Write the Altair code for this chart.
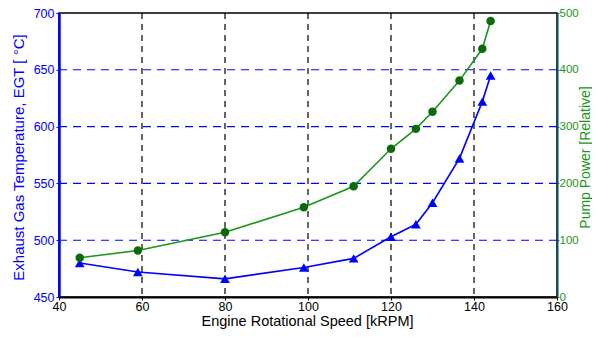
import altair as alt
import pandas as pd

speed = [45, 59, 80, 99, 111, 120, 126, 130, 136.5, 142, 144]
egt = [480, 472, 466, 476, 484, 503, 514, 533, 572, 622, 645]
pump = [69, 82, 114, 158, 195, 261, 296, 326, 381, 437, 486]

x_ticks = [40, 60, 80, 100, 120, 140, 160]
egt_ticks = [450, 500, 550, 600, 650, 700]
pump_ticks = [0, 100, 200, 300, 400, 500]

df = pd.DataFrame({"speed": speed, "egt": egt, "pump": pump})
vgrid_df = pd.DataFrame({"speed": x_ticks[1:-1]})
hgrid_df = pd.DataFrame({"egt": egt_ticks[1:-1]})

BLUE = "#0000ff"
GREEN = "#1a961a"
DKGREEN = "#0b6b0b"
FONT = "Liberation Sans"

PAD_L, PAD_T, PAD_R, PAD_B = 51, 5, 35, 32
W, H = 498, 284

x_enc = alt.X(
    "speed:Q",
    scale=alt.Scale(domain=[40, 160], nice=False, zero=False),
    axis=alt.Axis(
        title="Engine Rotational Speed [kRPM]",
        values=x_ticks,
        grid=False,
        labelFlush=False,
        domainColor="black",
        domainWidth=2,
        tickColor="black",
        tickSize=3,
        labelColor="black",
        labelFontSize=12.5,
        labelFont=FONT,
        titleFont=FONT,
        titleFontSize=14.5,
        titleFontWeight="normal",
        titleColor="black",
        titleBaseline="middle",
        titleX=248,
        titleY=24,
        labelPadding=0,
    ),
)

egt_axis = alt.Axis(
    title="Exhaust Gas Temperature, EGT [ °C]",
    values=egt_ticks,
    grid=False,
    labelFlush=False,
    domainColor=BLUE,
    domainWidth=2.5,
    tickColor=BLUE,
    tickSize=3,
    labelColor=BLUE,
    labelFontSize=12.5,
    labelFont=FONT,
    titleFont=FONT,
    titleFontSize=15,
    titleFontWeight="normal",
    titleColor=BLUE,
    titleAngle=270,
    titleBaseline="middle",
    titleX=-41,
    titleY=144,
    labelPadding=2,
)

pump_axis = alt.Axis(
    title="Pump Power [Relative]",
    orient="right",
    values=pump_ticks,
    grid=False,
    labelFlush=False,
    domainColor="#0d4d5a",
    domainWidth=2,
    tickColor=GREEN,
    tickSize=2,
    labelColor=GREEN,
    labelFontSize=11.5,
    labelFont=FONT,
    titleFont=FONT,
    titleFontSize=14,
    titleFontWeight="normal",
    titleColor=GREEN,
    titleAngle=270,
    titleBaseline="middle",
    titleX=28.3,
    titleY=144,
    labelPadding=0,
)

egt_y = alt.Y("egt:Q", scale=alt.Scale(domain=[450, 700], nice=False, zero=False), axis=egt_axis)
pump_y = alt.Y("pump:Q", scale=alt.Scale(domain=[0, 500], nice=False, zero=False), axis=pump_axis)

vgrid = alt.Chart(vgrid_df).mark_rule(color="black", strokeDash=[6, 5], strokeWidth=1.2).encode(x=x_enc)
hgrid = alt.Chart(hgrid_df).mark_rule(color=BLUE, strokeDash=[8, 6], strokeWidth=1.1).encode(y=egt_y)

base = alt.Chart(df)
egt_line = base.mark_line(color=BLUE, strokeWidth=1.6).encode(x=x_enc, y=egt_y)
egt_pts = base.mark_point(shape="triangle-up", filled=True, color=BLUE, size=95, opacity=1).encode(x=x_enc, y=egt_y)

pump_line = base.mark_line(color=GREEN, strokeWidth=1.6).encode(x=alt.X("speed:Q"), y=pump_y)
pump_pts = base.mark_point(shape="circle", filled=True, color=DKGREEN, size=72, opacity=1).encode(x=alt.X("speed:Q"), y=pump_y)

left = alt.layer(vgrid, hgrid, egt_line, egt_pts)
right = alt.layer(pump_line, pump_pts)

chart = (
    alt.layer(left, right)
    .resolve_scale(y="independent")
    .properties(
        width=W,
        height=H,
        autosize=alt.AutoSizeParams(type="none"),
        padding={"left": PAD_L, "top": PAD_T, "right": PAD_R, "bottom": PAD_B},
        background="white",
    )
    .configure_view(stroke="black", strokeWidth=1.5)
)

chart.save("out.html", embed_options={"renderer": "svg", "actions": False})
